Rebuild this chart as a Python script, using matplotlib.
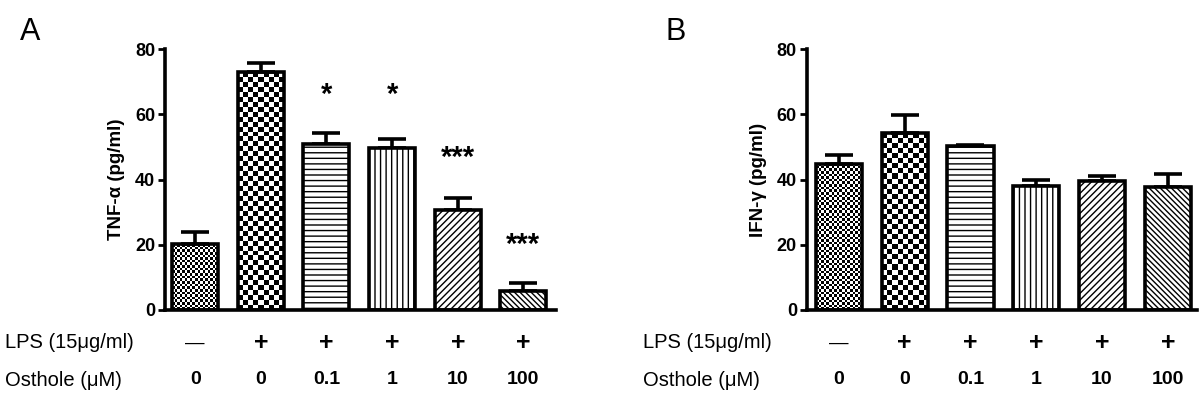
import matplotlib
matplotlib.use('Agg')
import matplotlib.pyplot as plt
import numpy as np

plt.rcParams['font.family'] = ['Liberation Sans', 'DejaVu Sans']
plt.rcParams['hatch.linewidth'] = 1.0

# data
lps_marks = ['\u2014', '+', '+', '+', '+', '+']
osthole = ['0', '0', '0.1', '1', '10', '100']
tnf_mean = [20.2, 72.8, 50.9, 49.8, 30.6, 5.7]
tnf_err = [3.6, 2.9, 3.2, 2.6, 3.7, 2.5]
tnf_sig = ['', '', '*', '*', '***', '***']
tnf_sig_y = [0, 0, 66, 66, 46.5, 20]
ifn_mean = [44.9, 54.1, 50.4, 37.9, 39.6, 37.6]
ifn_err = [2.6, 5.8, 0.3, 1.9, 1.6, 4.1]

# fill style per bar: ('checker', cell px) or hatch string
fills = [('checker', 2.6), ('checker', 5.0), '---', '|||', '/////', '\\\\\\\\\\\\']

fig = plt.figure(figsize=(12.04, 4.0), dpi=100)
axA = fig.add_axes([0.137, 0.225, 0.325, 0.6525])
axB = fig.add_axes([0.670, 0.225, 0.324, 0.6525])


def checker_fill(ax, bar, cell_px):
    # put a checker image inside the bar, clipped to it
    x0 = bar.get_x()
    w = bar.get_width()
    h = bar.get_height()
    p0 = ax.transData.transform((x0, 0))
    p1 = ax.transData.transform((x0 + w, h))
    nx = max(1, int(round((p1[0] - p0[0]) / cell_px)))
    ny = max(1, int(round((p1[1] - p0[1]) / cell_px)))
    img = np.indices((ny, nx)).sum(axis=0) % 2
    im = ax.imshow(img, extent=(x0, x0 + w, 0, h), cmap='gray', vmin=0, vmax=1,
                   interpolation='nearest', aspect='auto', origin='lower', zorder=1)
    im.set_clip_path(bar)


def draw_panel(ax, means, errs, ylabel, xlim):
    x = np.arange(len(means))
    ax.set_xlim(*xlim)
    ax.set_ylim(0, 80)
    bars = ax.bar(x, means, width=0.70, color='white', edgecolor='black',
                  linewidth=2.6, zorder=2)
    ax.errorbar(x, means, yerr=[np.zeros(len(errs)), errs], fmt='none', ecolor='black',
                elinewidth=2.6, capsize=10, capthick=2.6, zorder=1.5)
    for b, f in zip(bars, fills):
        if isinstance(f, tuple):
            b.set_facecolor('none')
            checker_fill(ax, b, f[1])
        else:
            b.set_hatch(f)
    ax.set_xlim(*xlim)
    ax.set_ylim(0, 80)
    for s in ['top', 'right']:
        ax.spines[s].set_visible(False)
    for s in ['left', 'bottom']:
        ax.spines[s].set_linewidth(2.6)
    ax.set_xticks([])
    ax.set_yticks([0, 20, 40, 60, 80])
    ax.tick_params(axis='y', direction='out', length=5, width=2, pad=2)
    for t in ax.get_yticklabels():
        t.set_fontweight('bold')
        t.set_fontsize(13)
    ax.set_ylabel(ylabel, fontsize=13.5, fontweight='bold', labelpad=7)
    tr = ax.get_xaxis_transform()
    for i in range(len(means)):
        plus = lps_marks[i] == '+'
        ax.text(x[i], -0.128, lps_marks[i], transform=tr, ha='center', va='center',
                fontsize=18 if plus else 14, fontweight='bold' if plus else 'normal')
        ax.text(x[i], -0.268, osthole[i], transform=tr, ha='center', va='center',
                fontsize=14, fontweight='bold')


draw_panel(axA, tnf_mean, tnf_err, 'TNF-\u03b1 (pg/ml)', (-0.46, 5.5))
draw_panel(axB, ifn_mean, ifn_err, 'IFN-\u03b3 (pg/ml)', (-0.49, 5.44))

for i, s in enumerate(tnf_sig):
    if s:
        axA.text(i, tnf_sig_y[i], s, ha='center', va='center', fontsize=21, fontweight='bold')

fig.text(0.025, 0.92, 'A', fontsize=22, ha='center', va='center')
fig.text(0.561, 0.92, 'B', fontsize=22, ha='center', va='center')
for fx in [0.004, 0.534]:
    fig.text(fx, 0.1425, 'LPS (15\u03bcg/ml)', fontsize=14.5, ha='left', va='center')
    fig.text(fx, 0.05, 'Osthole (\u03bcM)', fontsize=14.5, ha='left', va='center')

fig.savefig('out.png', dpi=100)
